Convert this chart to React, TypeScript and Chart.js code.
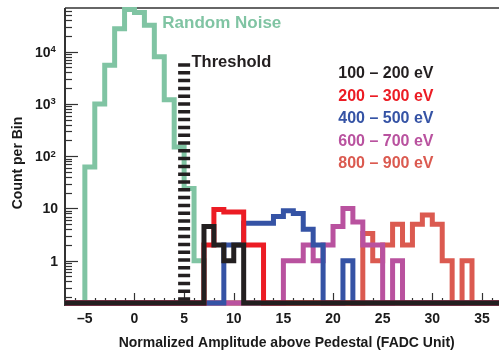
import React, { useEffect, useRef } from "react";
import { Chart, registerables } from "chart.js";

Chart.register(...registerables);

// ---- axis ranges ----
const X_MIN = -7;
const X_MAX = 40.85;
const Y_MIN = 0.155;
const Y_MAX = 68500;
const FIRST_EDGE = -7;
const LAST_EDGE = 37;

// ---- histogram data (counts per 1-unit bin, starting at the given lower bin edge) ----
const noiseFirstBin = -5;
const noiseCounts = [62, 1000, 5500, 27500, 64000, 56000, 32000, 8000, 1200, 150, 24, 1];

const e100FirstBin = 7;
const e100Counts = [4.5, 2, 1, 2];

const e200FirstBin = 7;
const e200Counts = [2, 9.5, 8.5, 8.5, 2, 2];

const e400FirstBin = 9;
const e400Counts = [2, 2, 5.2, 5.2, 5.2, 7, 9, 8, 4, 2, 0, 0, 1];

const e600FirstBin = 15;
const e600Counts = [1, 1, 2, 1, 2, 4.5, 10, 5.5, 2, 2, 0, 1];

const e800FirstBin = 23;
const e800Counts = [3.3, 1, 2, 5, 2, 5, 7.5, 5, 1, 0, 1];

const thresholdX = 5;
const thresholdTop = 6000;

// ---- ticks & labels ----
const xTickValues = [-5, 0, 5, 10, 15, 20, 25, 30, 35];
const xTickLabels = ["\u20135", "0", "5", "10", "15", "20", "25", "30", "35"];
const yTickValues = [1, 10, 100, 1000, 10000];
const yTickBases = ["1", "10", "10", "10", "10"];
const yTickExponents = ["", "", "2", "3", "4"];

const seriesNames = [
  "100 \u2013 200 eV",
  "200 \u2013 300 eV",
  "400 \u2013 500 eV",
  "600 \u2013 700 eV",
  "800 \u2013 900 eV",
];
const xTitle = "Normalized Amplitude above Pedestal (FADC Unit)";
const yTitle = "Count per Bin";
const noiseLabel = "Random Noise";
const thresholdLabel = "Threshold";

// ---- colours ----
const GREEN = "#80c4a3";
const BLACK = "#231f20";
const RED = "#ec1c24";
const BLUE = "#3553a5";
const MAGENTA = "#b9529f";
const SALMON = "#db5a50";
const seriesColors = [BLACK, RED, BLUE, MAGENTA, SALMON];
const AXIS = "#333333";
const TEXT = "#1a1a1a";
const FONT = '"Liberation Sans", Arial, Helvetica, sans-serif';

function histPoints(firstBin: number, counts: number[]) {
  const pts: { x: number; y: number }[] = [];
  for (let e = FIRST_EDGE; e <= LAST_EDGE; e++) {
    const idx = e - firstBin;
    const v = idx >= 0 && idx < counts.length ? counts[idx] : 0;
    pts.push({ x: e, y: v > 0 ? v : Y_MIN });
  }
  return pts;
}

const decorPlugin = {
  id: "decor",
  beforeDatasetsDraw(chart: any) {
    const { ctx, chartArea: a, scales } = chart;
    const xs = scales.x;
    const ys = scales.y;
    ctx.save();
    ctx.strokeStyle = AXIS;
    // top frame
    ctx.lineWidth = 1.5;
    ctx.beginPath();
    ctx.moveTo(a.left, a.top);
    ctx.lineTo(a.right, a.top);
    ctx.stroke();
    // left axis
    ctx.lineWidth = 2;
    ctx.beginPath();
    ctx.moveTo(a.left, a.top);
    ctx.lineTo(a.left, a.bottom + 3);
    ctx.stroke();
    // x ticks (inside)
    ctx.lineWidth = 1.2;
    for (let v = Math.ceil(X_MIN); v <= X_MAX; v++) {
      const px = Math.round(xs.getPixelForValue(v)) + 0.5;
      const len = v % 5 === 0 ? 10 : 5;
      ctx.beginPath();
      ctx.moveTo(px, a.bottom);
      ctx.lineTo(px, a.bottom - len);
      ctx.stroke();
    }
    // y ticks (inside)
    for (let e = -1; e <= 4; e++) {
      for (let k = 1; k <= 9; k++) {
        const v = k * Math.pow(10, e);
        if (v < Y_MIN || v > Y_MAX) continue;
        const py = Math.round(ys.getPixelForValue(v)) + 0.5;
        const len = k === 1 ? 13 : 7;
        ctx.beginPath();
        ctx.moveTo(a.left, py);
        ctx.lineTo(a.left + len, py);
        ctx.stroke();
      }
    }
    ctx.restore();
  },
  afterDraw(chart: any) {
    const { ctx, scales } = chart;
    const xs = scales.x;
    const ys = scales.y;
    ctx.save();
    ctx.textBaseline = "alphabetic";
    ctx.fillStyle = TEXT;

    // x tick labels
    ctx.font = `bold 14px ${FONT}`;
    ctx.textAlign = "center";
    xTickValues.forEach((v, i) => {
      ctx.fillText(xTickLabels[i], xs.getPixelForValue(v), 323);
    });

    // y tick labels
    yTickValues.forEach((v, i) => {
      const py = ys.getPixelForValue(v);
      const exp = yTickExponents[i];
      ctx.font = `bold 14px ${FONT}`;
      if (exp) {
        ctx.textAlign = "right";
        ctx.fillText(yTickBases[i], 50.5, py + 5);
        ctx.font = `bold 9.5px ${FONT}`;
        ctx.textAlign = "left";
        ctx.fillText(exp, 50.5, py + 0.5);
      } else {
        ctx.textAlign = "right";
        ctx.fillText(yTickBases[i], 58, py + 5);
      }
    });

    // axis titles
    ctx.font = `bold 14px ${FONT}`;
    ctx.textAlign = "center";
    ctx.fillText(xTitle, 286.7, 346.5);
    ctx.save();
    ctx.translate(21.5, 163);
    ctx.rotate(-Math.PI / 2);
    ctx.fillText(yTitle, 0, 0);
    ctx.restore();

    // annotations
    ctx.textAlign = "left";
    ctx.font = `bold 17px ${FONT}`;
    ctx.fillStyle = GREEN;
    ctx.fillText(noiseLabel, 162.3, 28.3);
    ctx.font = `bold 16.5px ${FONT}`;
    ctx.fillStyle = BLACK;
    ctx.fillText(thresholdLabel, 191.5, 66.7);

    // legend texts
    ctx.font = `bold 16px ${FONT}`;
    seriesNames.forEach((name, i) => {
      ctx.fillStyle = seriesColors[i];
      ctx.fillText(name, 338.3, 78.3 + i * 22.5);
    });
    ctx.restore();
  },
};

const CLIP = { left: 0, top: 3, right: 0, bottom: 5 };

function histDataset(label: string, color: string, firstBin: number, counts: number[]) {
  return {
    label,
    data: histPoints(firstBin, counts),
    borderColor: color,
    backgroundColor: color,
    borderWidth: 5,
    pointRadius: 0,
    pointHoverRadius: 0,
    stepped: "before" as const,
    tension: 0,
    fill: false,
    clip: CLIP,
    borderJoinStyle: "miter" as const,
    borderCapStyle: "butt" as const,
  };
}

export default function App() {
  const canvasRef = useRef<HTMLCanvasElement | null>(null);

  useEffect(() => {
    if (!canvasRef.current) return;
    const chart = new Chart(canvasRef.current, {
      type: "line",
      data: {
        datasets: [
          {
            label: thresholdLabel,
            data: [
              { x: thresholdX, y: thresholdTop },
              { x: thresholdX, y: Y_MIN },
            ],
            borderColor: BLACK,
            borderWidth: 12,
            borderDash: [3.5, 4.3],
            borderCapStyle: "butt",
            pointRadius: 0,
            fill: false,
          },
          histDataset(seriesNames[0], BLACK, e100FirstBin, e100Counts),
          histDataset(seriesNames[1], RED, e200FirstBin, e200Counts),
          histDataset(seriesNames[2], BLUE, e400FirstBin, e400Counts),
          histDataset(seriesNames[3], MAGENTA, e600FirstBin, e600Counts),
          histDataset(seriesNames[4], SALMON, e800FirstBin, e800Counts),
          histDataset(noiseLabel, GREEN, noiseFirstBin, noiseCounts),
        ],
      },
      options: {
        responsive: false,
        animation: false,
        devicePixelRatio: 1,
        layout: { padding: { left: 65, top: 8, bottom: 49, right: 0 } },
        plugins: { legend: { display: false }, tooltip: { enabled: false } },
        events: [],
        scales: {
          x: { type: "linear", min: X_MIN, max: X_MAX, display: false },
          y: { type: "logarithmic", min: Y_MIN, max: Y_MAX, display: false },
        },
      },
      plugins: [decorPlugin],
    });
    return () => chart.destroy();
  }, []);

  return (
    <div
      style={{
        position: "absolute",
        left: 0,
        top: 0,
        width: 499,
        height: 352,
        overflow: "hidden",
        background: "#ffffff",
      }}
    >
      <canvas
        ref={canvasRef}
        width={540}
        height={352}
        style={{ display: "block", width: 540, height: 352 }}
      />
    </div>
  );
}
